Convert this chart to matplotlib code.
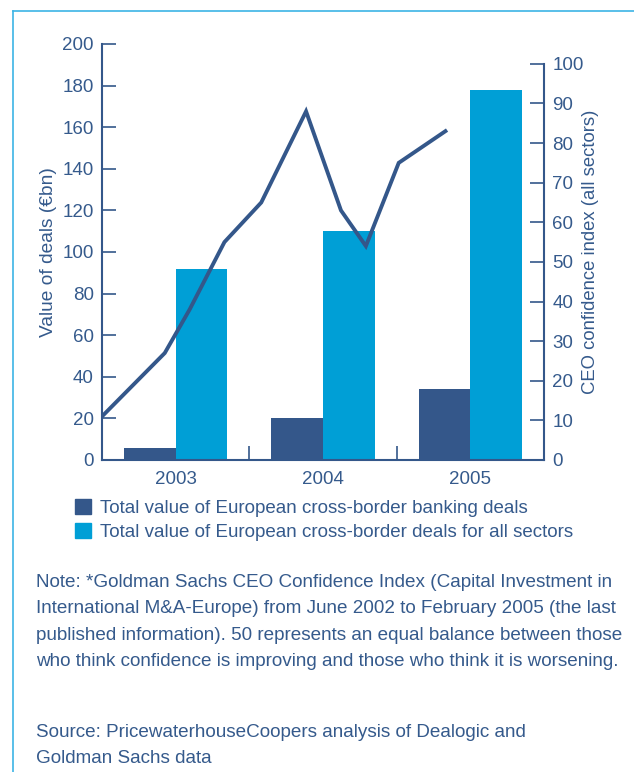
import numpy as np
import matplotlib
matplotlib.use("Agg")
import matplotlib.pyplot as plt
from matplotlib.patches import Patch
from matplotlib.lines import Line2D

plt.rcParams['font.family'] = ['Liberation Sans', 'DejaVu Sans']

# data
years = ['2003', '2004', '2005']
banking_deals = [6, 20, 34]          # EUR bn
all_sector_deals = [92, 110, 178]    # EUR bn
# CEO confidence index, positions on the year axis (0 = 2003, 1 = 2004, 2 = 2005)
ceo_x = [-0.5, -0.074, 0.095, 0.331, 0.581, 0.885, 1.122, 1.291, 1.514, 1.831]
ceo_index = [11, 27, 38, 55, 65, 88, 63, 54, 75, 83]

dark = '#34578a'
light = '#009fd6'
txt = '#355a8c'
border = '#3cb4e5'

W, H = 634, 772
fig = plt.figure(figsize=(W / 100, H / 100), dpi=100)
ax = fig.add_axes([102 / W, 1 - 460 / H, (544 - 102) / W, (460 - 44) / H])
ax2 = ax.twinx()

x = np.arange(len(years))
bw = 0.35
ax.bar(x - bw / 2, banking_deals, bw, color=dark, zorder=2)
ax.bar(x + bw / 2, all_sector_deals, bw, color=light, zorder=2)
ax2.plot(ceo_x, ceo_index, color=dark, lw=2.8, solid_joinstyle='miter', zorder=3)

ax.set_xlim(-0.5, 2.5)
ax.set_ylim(0, 200)
ax2.set_ylim(0, 105)
ax.set_yticks(range(0, 201, 20))
ax2.set_yticks(range(0, 101, 10))
ax2.spines['right'].set_bounds(0, 100)

ax.set_xticks(x)
ax.set_xticklabels(years)
ax.set_xticks([0.5, 1.5], minor=True)
ax.tick_params(axis='x', which='major', length=0, pad=8, labelsize=13.5, labelcolor=txt)
ax.tick_params(axis='x', which='minor', direction='in', length=10, width=1.2, color=dark)
ax.tick_params(axis='y', direction='in', length=10, width=1.2, color=dark,
               pad=6, labelsize=13.5, labelcolor=txt)
ax2.tick_params(axis='y', direction='in', length=10, width=1.2, color=dark,
                pad=6, labelsize=13.5, labelcolor=txt)

for a in (ax, ax2):
    a.spines['top'].set_visible(False)
    for s in a.spines.values():
        s.set_color(dark)
        s.set_linewidth(1.5)
ax.spines['right'].set_visible(False)
ax2.spines['left'].set_visible(False)
ax2.spines['bottom'].set_visible(False)

ax.set_ylabel('Value of deals (€bn)', fontsize=13.8, color=txt, labelpad=4)
ax2.set_ylabel('CEO confidence index (all sectors)', fontsize=13.3, color=txt, labelpad=-1)

handles = [Patch(color=dark), Patch(color=light)]
labels = ['Total value of European cross-border banking deals',
          'Total value of European cross-border deals for all sectors']
fig.legend(handles, labels, loc='upper left', bbox_to_anchor=(66 / W, 1 - 490 / H),
           frameon=False, fontsize=13.5, handlelength=0.85, handleheight=0.85,
           handletextpad=0.45, labelspacing=0.32, borderpad=0, labelcolor=txt)

note = ('Note: *Goldman Sachs CEO Confidence Index (Capital Investment in\n'
        'International M&A-Europe) from June 2002 to February 2005 (the last\n'
        'published information). 50 represents an equal balance between those\n'
        'who think confidence is improving and those who think it is worsening.')
fig.text(36 / W, 1 - 574 / H, note, ha='left', va='top', fontsize=13.6,
         color=txt, linespacing=1.72)
source = ('Source: PricewaterhouseCoopers analysis of Dealogic and\n'
          'Goldman Sachs data')
fig.text(36 / W, 1 - 724 / H, source, ha='left', va='top', fontsize=13.6,
         color=txt, linespacing=1.72)

# frame lines at the top and left of the panel
fig.add_artist(Line2D([13 / W, 13 / W], [0, 1 - 11 / H], color=border, lw=1.2,
                      transform=fig.transFigure))
fig.add_artist(Line2D([13 / W, 1], [1 - 11 / H, 1 - 11 / H], color=border, lw=1.2,
                      transform=fig.transFigure))

fig.savefig('out.png', dpi=100)
